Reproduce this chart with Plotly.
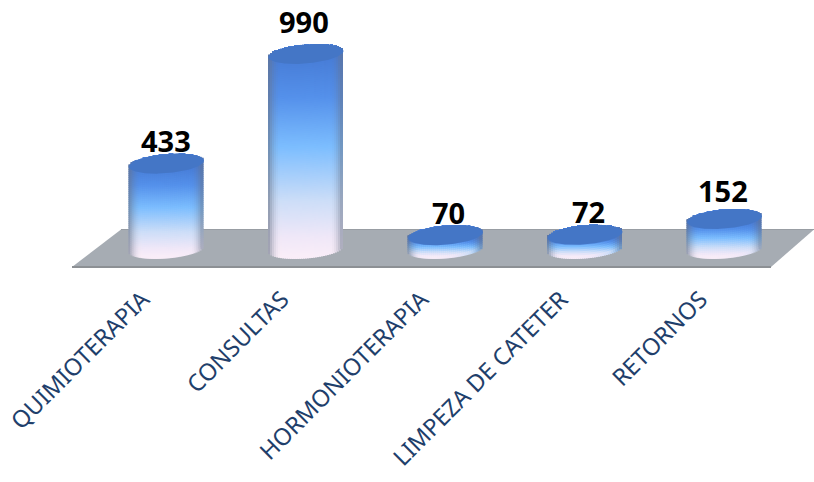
import numpy as np
import plotly.graph_objects as go

categories = ["QUIMIOTERAPIA", "CONSULTAS", "HORMONIOTERAPIA", "LIMPEZA DE CATETER", "RETORNOS"]
values = [433, 990, 70, 72, 152]
label_gaps = [23, 32, 23, 23, 29]   # px between cylinder top centre and label centre
label_dx = [-1, -2, 3, 3, -2]       # px horizontal nudge of labels

W, H = 814, 482
PX_X = 139.5          # px per category
PX_Y = 0.197          # px per unit of value
X0_PX = 166.5         # px of first category
Y0_PX = 249           # px of value 0
AXIS_PX = 280         # plot area bottom
HALF = 37.5           # cylinder half width, px
RIM_B = 9.5           # ellipse minor half axis, px
TILT = 0.08           # rim tilt, px/px
STEP_X, STEP_Y = 2.0, 2.0

GRAD = [(0.0, (250, 238, 248)), (0.1, (240, 232, 248)), (0.28, (205, 222, 248)),
        (0.55, (125, 190, 255)), (0.8, (85, 145, 235)), (1.0, (72, 125, 215))]
EDGE = (105, 115, 135)


def vcolor(t):
    t = min(max(t, 0.0), 1.0)
    for (a, ca), (b, cb) in zip(GRAD[:-1], GRAD[1:]):
        if t <= b:
            f = (t - a) / (b - a)
            return [ca[i] + (cb[i] - ca[i]) * f for i in range(3)]
    return list(GRAD[-1][1])


def rim(dx):
    return RIM_B * np.sqrt(max(1 - (dx / HALF) ** 2, 0.0))


fig = go.Figure()

for i, (cat, val) in enumerate(zip(categories, values)):
    xs, bases, heights, colors, widths = [], [], [], [], []
    for dx in np.arange(-HALF + STEP_X / 2, HALF, STEP_X):
        u = abs(dx) / HALF
        shade = max((u - 0.65) / 0.35, 0.0) ** 2 * 0.7
        low = TILT * dx - rim(dx)             # px above base centre
        top = TILT * dx + rim(dx) + val * PX_Y
        ys = list(np.arange(low, top, STEP_Y))
        for y in reversed(ys):                # top first, lower rows overlap upward
            seg = min(STEP_Y + 1.5, top - y)
            c = vcolor((y + STEP_Y / 2 + RIM_B) / (val * PX_Y + RIM_B * 0.5))
            c = [c[k] * (1 - shade) + EDGE[k] * shade for k in range(3)]
            xs.append(i + dx / PX_X)
            bases.append(y / PX_Y)
            heights.append(seg / PX_Y)
            colors.append("rgb(%d,%d,%d)" % tuple(c))
            widths.append((STEP_X + 1.0) / PX_X)
    fig.add_trace(go.Bar(x=xs, y=heights, base=bases, width=widths, name=cat,
                         marker=dict(color=colors, line=dict(width=0)),
                         hoverinfo="skip", showlegend=False))
    # top ellipse
    a = np.linspace(0, 2 * np.pi, 145)
    ex = HALF * np.cos(a)
    ey = TILT * ex + RIM_B * np.sin(a) + val * PX_Y
    fig.add_trace(go.Scatter(x=i + ex / PX_X, y=ey / PX_Y, mode="lines", fill="toself",
                             fillcolor="#4476c6", line=dict(width=0, color="#4476c6"),
                             hoverinfo="skip", showlegend=False))

xmap = lambda p: (p - X0_PX) / PX_X
ymap = lambda p: (Y0_PX - p) / PX_Y

floor = [(72, 267), (771, 267), (814, 229.5), (121, 229.5)]
path = "M " + " L ".join(f"{xmap(p)},{ymap(q)}" for p, q in floor) + " Z"
shapes = [
    dict(type="path", xref="x", yref="y", path=path, fillcolor="#a6acb3",
         line=dict(color="#a6acb3", width=0), layer="below"),
    dict(type="line", xref="x", yref="y", x0=xmap(72), x1=xmap(771), y0=ymap(267), y1=ymap(267),
         line=dict(color="#8c9094", width=2), layer="below"),
    dict(type="line", xref="x", yref="y", x0=xmap(121), x1=xmap(814), y0=ymap(229.5), y1=ymap(229.5),
         line=dict(color="#989da3", width=1), layer="below"),
]

annotations = [
    dict(x=i, y=v, xref="x", yref="y", text=str(v), showarrow=False, yanchor="middle",
         yshift=g, xshift=d,
         font=dict(family="Noto Sans", size=29, color="#000000", weight="bold"))
    for i, (v, g, d) in enumerate(zip(values, label_gaps, label_dx))
]

fig.update_layout(
    width=W, height=H, margin=dict(l=0, r=0, t=0, b=0), autosize=False,
    paper_bgcolor="white", plot_bgcolor="rgba(0,0,0,0)", barmode="overlay",
    shapes=shapes, annotations=annotations, showlegend=False,
    xaxis=dict(range=[xmap(0), xmap(W)], tickmode="array", tickvals=list(range(len(categories))),
               ticktext=categories, tickangle=-45, ticks="", showgrid=False, zeroline=False,
               showline=False, ticklabelshift=-24, ticklabeloverflow="allow", automargin=False,
               tickfont=dict(family="Noto Sans", size=23.5, color="#1f3f6b")),
    yaxis=dict(domain=[(H - AXIS_PX) / H, 1], range=[ymap(AXIS_PX), ymap(0)], visible=False),
)

fig.write_html("out.html", post_script="document.body.style.margin='0';",
               config=dict(displayModeBar=False))
